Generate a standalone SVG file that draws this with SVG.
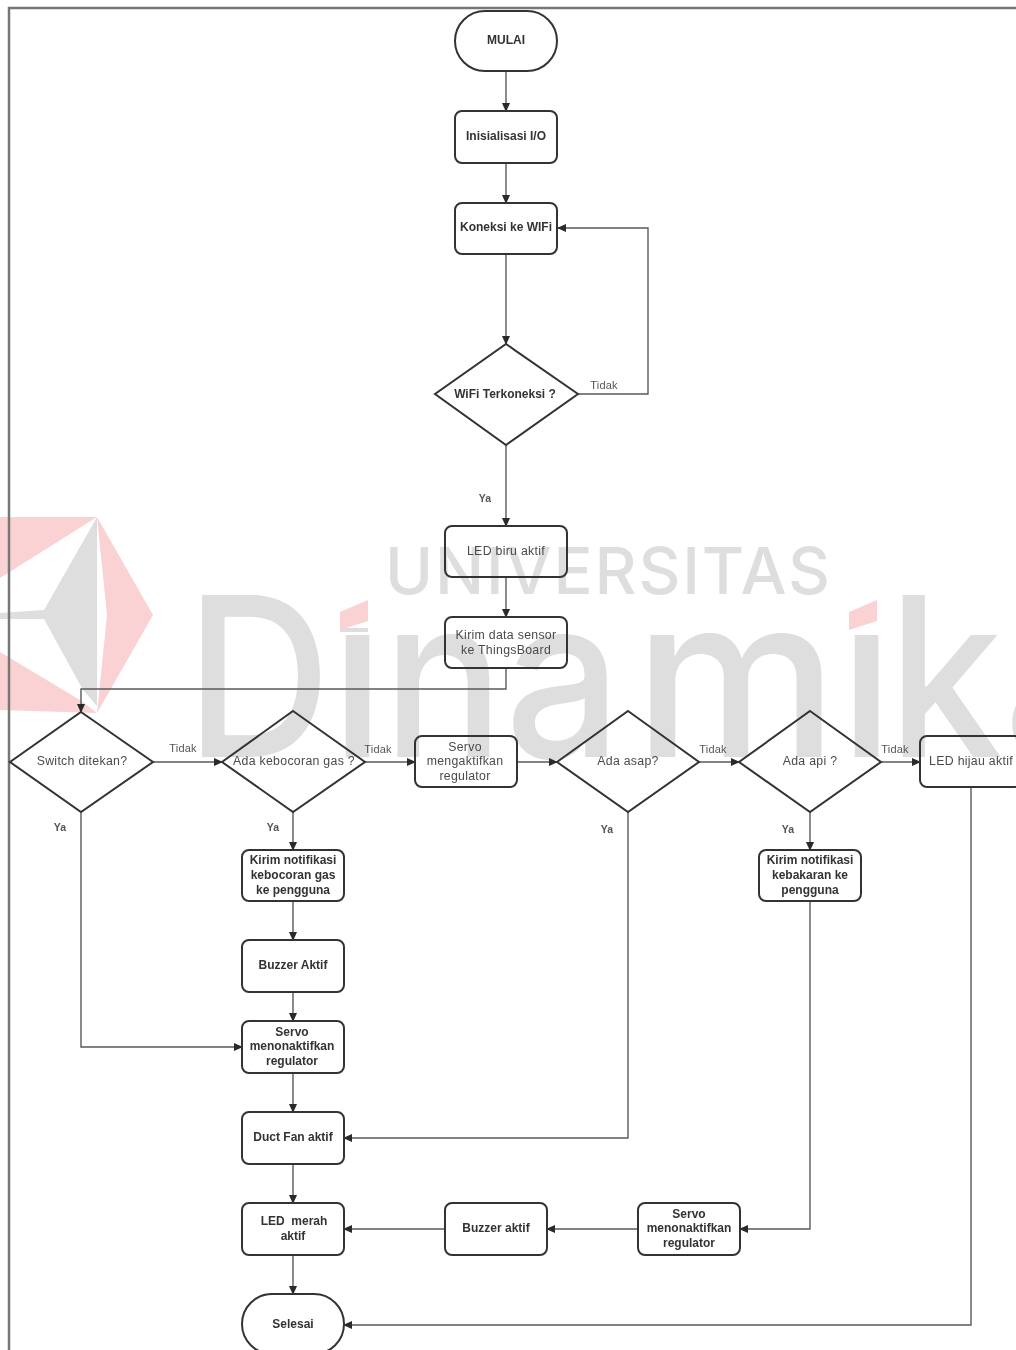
<svg xmlns="http://www.w3.org/2000/svg" width="1016" height="1350" viewBox="0 0 1016 1350">
<style>
.n{fill:none;stroke:#333;stroke-width:2}
.c{fill:none;stroke:#5a5a5a;stroke-width:1.4}
text{font-family:"Liberation Sans",Arial,sans-serif;font-size:12px;fill:#3a3a3a;text-anchor:middle}
.b{font-weight:bold;font-size:12px;fill:#333}
.r{font-size:12.3px;letter-spacing:.3px;fill:#4a4a4a}
.l{font-size:11px;letter-spacing:.2px;fill:#555}
.lb{font-size:10.5px;font-weight:bold;fill:#555}
.w{font-family:"Inter","Open Sans",sans-serif;font-weight:500;fill:#dedede;text-anchor:start}
.d{font-size:223px}
.p{fill:#fad2d4}
.g{fill:#dedede}
</style>
<defs>
<marker id="a" markerWidth="9" markerHeight="8" refX="8" refY="4" orient="auto" markerUnits="userSpaceOnUse"><path d="M0 0L9 4L0 8z" fill="#2a2a2a"/></marker>
<filter id="s" x="-5%" y="-5%" width="110%" height="110%"><feGaussianBlur stdDeviation=".7"/></filter>
</defs>
<rect width="1016" height="1350" fill="#fff"/>
<g id="watermark" filter="url(#s)">
<polygon class="p" points="0,517 97,517 0,578"/>
<polygon class="p" points="97,517 153,615 97,713 107,615"/>
<polygon class="p" points="0,652 80,700 97,713 0,710"/>
<polygon class="g" points="97,517 97,706 83,690 44,619 0,619 0,613 44,610"/>
<text class="w" x="385" y="594" style="font-size:65px" textLength="445" lengthAdjust="spacing">UNIVERSITAS</text>
<g id="wm-text">
<text class="w d" transform="translate(186,757) scale(.9,1)">D</text>
<text class="w d" transform="translate(330,757) scale(.98,1)">i</text>
<text class="w d" transform="translate(383,757) scale(.9,1)">n</text>
<text class="w d" transform="translate(505,757) scale(.92,1)">a</text>
<text class="w d" transform="translate(634,757) scale(1.03,1)">m</text>
<text class="w d" transform="translate(839,757) scale(.98,1)">i</text>
<text class="w d" transform="translate(888,757) scale(.92,1)">k</text>
<text class="w d" transform="translate(1004,757) scale(.92,1)">a</text>
</g>
<rect x="330" y="570" width="50" height="60" fill="#fff"/>
<rect x="839" y="570" width="48" height="58" fill="#fff"/>
<rect x="340" y="628" width="28" height="4" class="g"/>
<polygon class="p" points="340,612 368,600 368,621 340,630"/>
<polygon class="p" points="849,612 877,600 877,621 849,630"/>
</g>
<path d="M9 1350V8H1016" fill="none" stroke="#777" stroke-width="2.5"/>
<g id="connectors">
<path class="c" d="M506 71V111" marker-end="url(#a)"/>
<path class="c" d="M506 163V203" marker-end="url(#a)"/>
<path class="c" d="M506 254V344" marker-end="url(#a)"/>
<path class="c" d="M578 394H648V228H558" marker-end="url(#a)"/>
<path class="c" d="M506 445V526" marker-end="url(#a)"/>
<path class="c" d="M506 577V617" marker-end="url(#a)"/>
<path class="c" d="M506 668V689H81V712" marker-end="url(#a)"/>
<path class="c" d="M153 762H222" marker-end="url(#a)"/>
<path class="c" d="M365 762H415" marker-end="url(#a)"/>
<path class="c" d="M517 762H557" marker-end="url(#a)"/>
<path class="c" d="M699 762H739" marker-end="url(#a)"/>
<path class="c" d="M881 762H920" marker-end="url(#a)"/>
<path class="c" d="M293 812V850" marker-end="url(#a)"/>
<path class="c" d="M293 901V940" marker-end="url(#a)"/>
<path class="c" d="M293 992V1021" marker-end="url(#a)"/>
<path class="c" d="M293 1073V1112" marker-end="url(#a)"/>
<path class="c" d="M293 1164V1203" marker-end="url(#a)"/>
<path class="c" d="M293 1255V1294" marker-end="url(#a)"/>
<path class="c" d="M81 812V1047H242" marker-end="url(#a)"/>
<path class="c" d="M628 812V1138H344" marker-end="url(#a)"/>
<path class="c" d="M810 812V850" marker-end="url(#a)"/>
<path class="c" d="M810 901V1229H740" marker-end="url(#a)"/>
<path class="c" d="M638 1229H547" marker-end="url(#a)"/>
<path class="c" d="M445 1229H344" marker-end="url(#a)"/>
<path class="c" d="M971 787V1325H344" marker-end="url(#a)"/>
</g>
<g id="labels">
<text class="l" x="604" y="389">Tidak</text>
<text class="lb" x="485" y="502">Ya</text>
<text class="l" x="183" y="752">Tidak</text>
<text class="l" x="378" y="753">Tidak</text>
<text class="l" x="713" y="753">Tidak</text>
<text class="l" x="895" y="753">Tidak</text>
<text class="lb" x="60" y="831">Ya</text>
<text class="lb" x="273" y="831">Ya</text>
<text class="lb" x="607" y="833">Ya</text>
<text class="lb" x="788" y="833">Ya</text>
</g>
<g id="mulai"><rect class="n" x="455" y="11" width="102" height="60" rx="30"/><text class="b" x="506" y="44">MULAI</text></g>
<g id="inisialisasi"><rect class="n" x="455" y="111" width="102" height="52" rx="7"/><text class="b" x="506" y="140">Inisialisasi I/O</text></g>
<g id="koneksi"><rect class="n" x="455" y="203" width="102" height="51" rx="7"/><text class="b" x="506" y="231">Koneksi ke WIFi</text></g>
<g id="wifi"><polygon class="n" points="506,344 578,394 506,445 435,394"/><text class="b" x="505" y="398">WiFi Terkoneksi ?</text></g>
<g id="ledbiru"><rect class="n" x="445" y="526" width="122" height="51" rx="7"/><text class="r" x="506" y="555">LED biru aktif</text></g>
<g id="kirimdata"><rect class="n" x="445" y="617" width="122" height="51" rx="7"/><text class="r" x="506" y="639">Kirim data sensor</text><text class="r" x="506" y="654">ke ThingsBoard</text></g>
<g id="switch"><polygon class="n" points="81,712 153,762 81,812 10,762"/><text class="r" x="82" y="765">Switch ditekan?</text></g>
<g id="gas"><polygon class="n" points="293,711 365,762 293,812 222,762"/><text class="r" x="294" y="765">Ada kebocoran gas ?</text></g>
<g id="servo1"><rect class="n" x="415" y="736" width="102" height="51" rx="7"/><text class="r" x="465" y="751">Servo</text><text class="r" x="465" y="765">mengaktifkan</text><text class="r" x="465" y="780">regulator</text></g>
<g id="asap"><polygon class="n" points="628,711 699,762 628,812 557,762"/><text class="r" x="628" y="765">Ada asap?</text></g>
<g id="api"><polygon class="n" points="810,711 881,762 810,812 739,762"/><text class="r" x="810" y="765">Ada api ?</text></g>
<g id="ledhijau"><rect class="n" x="920" y="736" width="102" height="51" rx="7"/><text class="r" x="971" y="765">LED hijau aktif</text></g>
<g id="notifgas"><rect class="n" x="242" y="850" width="102" height="51" rx="7"/><text class="b" x="293" y="864">Kirim notifikasi</text><text class="b" x="293" y="879">kebocoran gas</text><text class="b" x="293" y="894">ke pengguna</text></g>
<g id="notifapi"><rect class="n" x="759" y="850" width="102" height="51" rx="7"/><text class="b" x="810" y="864">Kirim notifikasi</text><text class="b" x="810" y="879">kebakaran ke</text><text class="b" x="810" y="894">pengguna</text></g>
<g id="buzzer1"><rect class="n" x="242" y="940" width="102" height="52" rx="7"/><text class="b" x="293" y="969">Buzzer Aktif</text></g>
<g id="servo2"><rect class="n" x="242" y="1021" width="102" height="52" rx="7"/><text class="b" x="292" y="1036">Servo</text><text class="b" x="292" y="1050">menonaktifkan</text><text class="b" x="292" y="1065">regulator</text></g>
<g id="duct"><rect class="n" x="242" y="1112" width="102" height="52" rx="7"/><text class="b" x="293" y="1141">Duct Fan aktif</text></g>
<g id="ledmerah"><rect class="n" x="242" y="1203" width="102" height="52" rx="7"/><text class="b" x="294" y="1225" xml:space="preserve">LED  merah</text><text class="b" x="293" y="1240">aktif</text></g>
<g id="buzzer2"><rect class="n" x="445" y="1203" width="102" height="52" rx="7"/><text class="b" x="496" y="1232">Buzzer aktif</text></g>
<g id="servo3"><rect class="n" x="638" y="1203" width="102" height="52" rx="7"/><text class="b" x="689" y="1218">Servo</text><text class="b" x="689" y="1232">menonaktifkan</text><text class="b" x="689" y="1247">regulator</text></g>
<g id="selesai"><rect class="n" x="242" y="1294" width="102" height="60" rx="30"/><text class="b" x="293" y="1328">Selesai</text></g>
</svg>
